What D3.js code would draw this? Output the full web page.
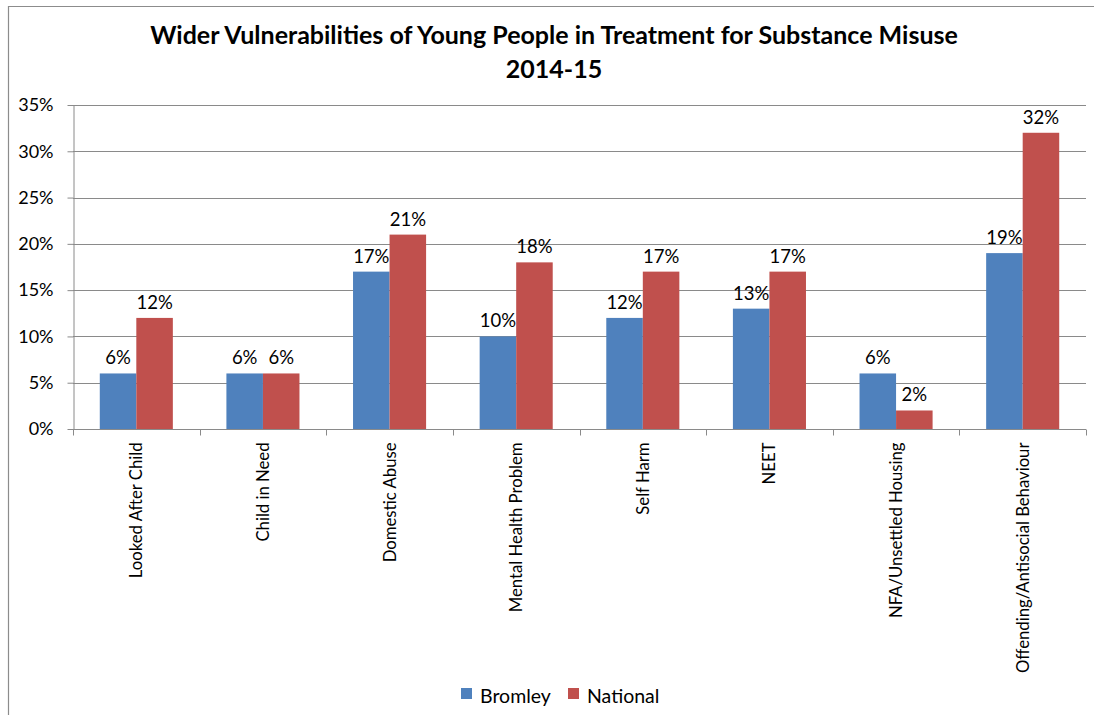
<!DOCTYPE html>
<html>
<head>
<meta charset="utf-8">
<script src="https://cdn.jsdelivr.net/npm/d3@7"></script>
<style>
  html, body { margin: 0; padding: 0; background: #fff; }
  svg { display: block; }
  text { font-family: Lato, "Open Sans", "Liberation Sans", sans-serif; fill: #000; }
</style>
</head>
<body>
<svg id="chart" width="1094" height="715"></svg>
<script>
// Chart data
const categories = [
  "Looked After Child", "Child in Need", "Domestic Abuse", "Mental Health Problem",
  "Self Harm", "NEET", "NFA/Unsettled Housing", "Offending/Antisocial Behaviour"
];
const seriesNames = ["Bromley", "National"];
const bromley = [6, 6, 17, 10, 12, 13, 6, 19];
const national = [12, 6, 21, 18, 17, 17, 2, 32];
const yTicks = [0, 5, 10, 15, 20, 25, 30, 35];
const titleLines = ["Wider Vulnerabilities of Young People in Treatment for Substance Misuse", "2014-15"];
const colors = ["#4F81BD", "#C0504D"];

const svg = d3.select("#chart");
const plot = { left: 73, right: 1086, top: 105, bottom: 429 };

// Outer chart frame
svg.append("path")
  .attr("d", "M8.5,720 V6.5 H1100")
  .attr("fill", "none")
  .attr("stroke", "#8c8c8c")
  .attr("stroke-width", 1.2);

const x0 = d3.scaleBand().domain(categories).range([plot.left, plot.right]).paddingInner(0).paddingOuter(0);
const groupWidth = x0.bandwidth() * 0.577;
const x1 = d3.scaleBand().domain(seriesNames).range([0, groupWidth]).padding(0);
const y = d3.scaleLinear().domain([0, 35]).range([plot.bottom, plot.top]);

// Gridlines
svg.append("g")
  .selectAll("line")
  .data(yTicks.filter(d => d > 0))
  .join("line")
  .attr("x1", plot.left).attr("x2", plot.right)
  .attr("y1", d => Math.round(y(d)) + 0.5).attr("y2", d => Math.round(y(d)) + 0.5)
  .attr("stroke", "#8a8a8a").attr("stroke-width", 1);

// Y axis
const yAxis = svg.append("g")
  .attr("transform", `translate(${plot.left + 0.5},0)`)
  .call(d3.axisLeft(y).tickValues(yTicks).tickFormat(d => d + "%").tickSize(6).tickSizeOuter(0));
yAxis.select(".domain").attr("stroke", "#8a8a8a");
yAxis.selectAll(".tick line").attr("stroke", "#8a8a8a");
yAxis.selectAll(".tick text")
  .attr("x", -20)
  .attr("font-size", 18)
  .attr("font-family", "Lato, 'Open Sans', sans-serif");

// X axis
const xAxis = svg.append("g")
  .attr("transform", `translate(0,${plot.bottom + 0.5})`);
xAxis.append("line")
  .attr("x1", plot.left).attr("x2", plot.right)
  .attr("stroke", "#8a8a8a");
xAxis.selectAll("line.tick")
  .data(categories.concat(["__end"]))
  .join("line")
  .attr("class", "tick")
  .attr("x1", (d, i) => Math.round(plot.left + i * x0.step()) + 0.5)
  .attr("x2", (d, i) => Math.round(plot.left + i * x0.step()) + 0.5)
  .attr("y1", 0).attr("y2", 6)
  .attr("stroke", "#8a8a8a");
xAxis.selectAll("text")
  .data(categories)
  .join("text")
  .attr("transform", d => `translate(${x0(d) + x0.bandwidth() / 2 + 6},13) rotate(-90)`)
  .attr("text-anchor", "end")
  .attr("font-size", 16.7)
  .text(d => d);

// Bars
const rows = categories.map((c, i) => ({ cat: c, values: [bromley[i], national[i]] }));
const groups = svg.append("g")
  .selectAll("g")
  .data(rows)
  .join("g")
  .attr("transform", d => `translate(${x0(d.cat) + (x0.bandwidth() - groupWidth) / 2},0)`);

groups.selectAll("rect")
  .data(d => d.values.map((v, i) => ({ name: seriesNames[i], v, i })))
  .join("rect")
  .attr("x", d => x1(d.name))
  .attr("y", d => y(d.v))
  .attr("width", x1.bandwidth())
  .attr("height", d => y(0) - y(d.v))
  .attr("fill", d => colors[d.i]);

// Value labels
groups.selectAll("text")
  .data(d => d.values.map((v, i) => ({ name: seriesNames[i], v, i })))
  .join("text")
  .attr("x", d => x1(d.name) + x1.bandwidth() / 2)
  .attr("y", d => y(d.v) - 9)
  .attr("text-anchor", "middle")
  .attr("font-size", 18.5)
  .text(d => d.v + "%");

// Title
const title = svg.append("text")
  .attr("text-anchor", "middle")
  .attr("font-weight", "bold")
  .attr("font-size", 25);
titleLines.forEach((t, i) => {
  title.append("tspan")
    .attr("x", 554)
    .attr("y", 44 + i * 34)
    .text(t);
});

// Legend
const legend = svg.append("g").attr("transform", "translate(461,688)");
const legendX = [0, 107];
seriesNames.forEach((n, i) => {
  const g = legend.append("g").attr("transform", `translate(${legendX[i]},0)`);
  g.append("rect").attr("width", 11).attr("height", 11).attr("fill", colors[i]);
  g.append("text").attr("x", 19).attr("y", 15).attr("font-size", 19.5).text(n);
});
</script>
</body>
</html>
